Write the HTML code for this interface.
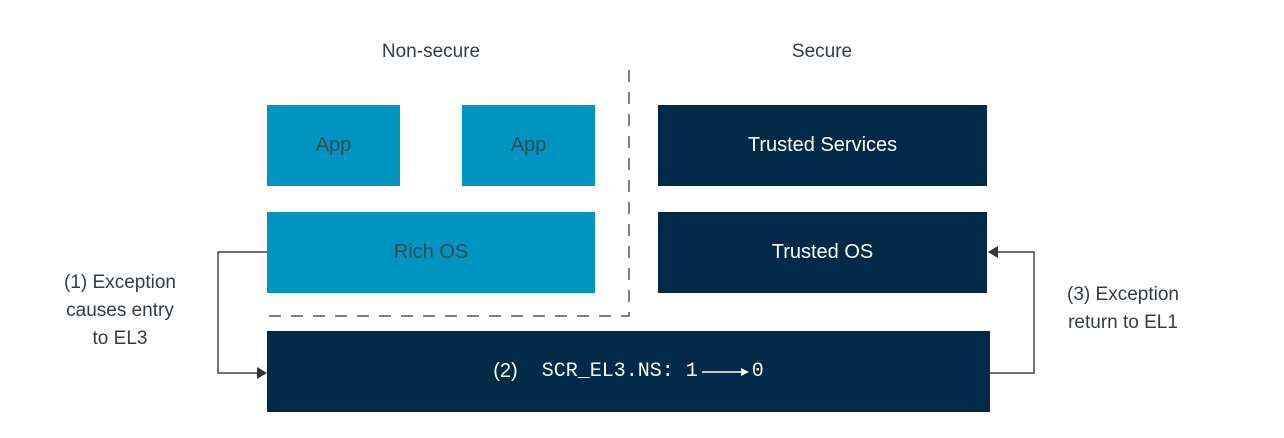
<!DOCTYPE html>
<html><head><style>
body{margin:0;width:1284px;height:438px;background:#fff;overflow:hidden;font-family:"Liberation Sans",sans-serif;}
.b{position:absolute;display:flex;align-items:center;justify-content:center;font-size:20px;}
.l{background:#0095c0;color:#354a5a;}
.d{background:#002a48;color:#fff;}
.t{position:absolute;font-size:19px;color:#333c45;text-align:center;line-height:28px;}
</style></head><body>
<div class="t" style="left:331px;top:38px;width:200px">Non-secure</div>
<div class="t" style="left:722px;top:38px;width:200px">Secure</div>
<div class="b l" style="left:267px;top:105px;width:133px;height:81px">App</div>
<div class="b l" style="left:462px;top:105px;width:133px;height:81px">App</div>
<div class="b d" style="left:658px;top:105px;width:329px;height:81px">Trusted Services</div>
<div class="b l" style="left:267px;top:212px;width:328px;height:81px">Rich OS</div>
<div class="b d" style="left:658px;top:212px;width:329px;height:81px">Trusted OS</div>
<div class="b d" style="left:267px;top:331px;width:723px;height:81px;font-family:'Liberation Mono',monospace;font-size:20px"><span style="font-family:'Liberation Sans',sans-serif">(2)</span>&nbsp;&nbsp;SCR_EL3.NS:&nbsp;1<svg width="50" height="12" style="margin:0 2px"><path d="M2 6 H42" stroke="#fff" stroke-width="1.5"/><polygon points="49,6 41,2 41,10" fill="#fff"/></svg>0</div>
<svg width="1284" height="438" style="position:absolute;left:0;top:0">
<path d="M629 70 V316 H267" fill="none" stroke="#555" stroke-width="1.5" stroke-dasharray="12,10"/>
<path d="M267 252 H218 V373 H258" fill="none" stroke="#444" stroke-width="1.5"/>
<polygon points="267,373 257,367 257,379" fill="#333"/>
<path d="M990 373 H1034 V252 H997" fill="none" stroke="#444" stroke-width="1.5"/>
<polygon points="988,252 998,246 998,258" fill="#333"/>
</svg>
<div class="t" style="left:40px;top:269px;width:160px">(1) Exception<br>causes entry<br>to EL3</div>
<div class="t" style="left:1043px;top:281px;width:160px">(3) Exception<br>return to EL1</div>
</body></html>
